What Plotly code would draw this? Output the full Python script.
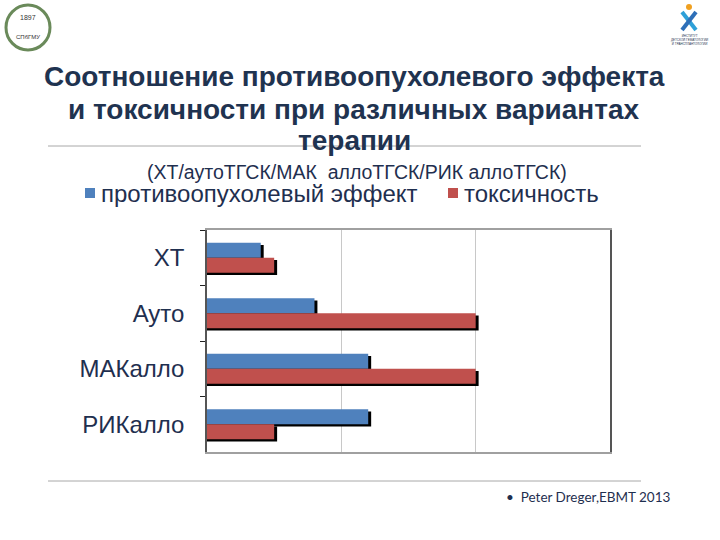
import plotly.graph_objects as go

categories = ["ХТ", "Ауто", "МАКалло", "РИКалло"]
effect = [0.4, 0.8, 1.2, 1.2]
toxicity = [0.5, 2.0, 2.0, 0.5]
series_names = ["противоопухолевый эффект", "токсичность"]
colors = ["#4F81BD", "#C0504D"]
title_lines = ["Соотношение противоопухолевого эффекта",
               "и токсичности при различных вариантах",
               "терапии"]
subtitle = "(ХТ/аутоТГСК/МАК  аллоТГСК/РИК аллоТГСК)"
source = "•  Peter Dreger,EBMT 2013"

L, R, T, B = 207, 610, 230, 452
W, H = R - L, B - T
def px(x): return (x - L) / W
def py(y): return (B - y) / H

navy = "#1F2F4F"
bw = 0.27
sx, sy = 0.022, 0.04  # shadow offsets in data units

fig = go.Figure()
for vals, off in [(effect, -bw), (toxicity, 0.0)]:
    fig.add_trace(go.Bar(
        y=categories, x=[v + sx for v in vals], orientation="h",
        width=bw, offset=off + sy, marker=dict(color="black", line_width=0),
        showlegend=False, hoverinfo="skip"))
for vals, off, name, c in [(effect, -bw, series_names[0], colors[0]),
                           (toxicity, 0.0, series_names[1], colors[1])]:
    fig.add_trace(go.Bar(
        y=categories, x=vals, orientation="h", name=name, showlegend=False,
        width=bw, offset=off, marker=dict(color=c, line_width=0)))

fig.update_layout(
    width=720, height=540,
    margin=dict(l=L, r=720 - R, t=T, b=540 - B, autoexpand=False),
    paper_bgcolor="white", plot_bgcolor="white",
    barmode="overlay",
    font=dict(family="Liberation Sans, Arial, sans-serif", color=navy),
    xaxis=dict(range=[0, 3], showticklabels=False, ticks="", showgrid=True,
               gridcolor="#C8C8C8", gridwidth=1, dtick=1, zeroline=False,
               showline=True, linecolor="#A0A0A0", linewidth=2, mirror=True,
               automargin=False),
    yaxis=dict(categoryorder="array", categoryarray=categories, autorange="reversed",
               ticks="outside", tickson="boundaries", ticklen=5, tickcolor="#222",
               showline=True, linecolor="#555", linewidth=1.5, mirror=True,
               tickfont=dict(size=24, color=navy), ticklabelstandoff=16,
               showgrid=False, automargin=False),
)

def note(text, x, y, size, color=navy, xanchor="center", family=None, bold=False):
    f = dict(size=size, color=color)
    if family:
        f["family"] = family
    fig.add_annotation(text=("<b>%s</b>" % text) if bold else text,
                       x=px(x), y=py(y), xref="paper", yref="paper",
                       xanchor=xanchor, yanchor="middle", showarrow=False, font=f)

# title lines
for txt, yy in zip(title_lines, (77, 109, 140)):
    note(txt, 354, yy, 28, color="#1F3350", bold=True)

note(subtitle, 357, 172, 19.5)

# legend (squares + labels)
for name, c, sxp in zip(series_names, colors, (85, 448)):
    fig.add_shape(type="rect", xref="paper", yref="paper",
                  x0=px(sxp), x1=px(sxp + 10), y0=py(198), y1=py(188),
                  fillcolor=c, line_width=0)
    note(name, sxp + 14, 193, 24, xanchor="left")

note(source, 504, 497, 13.5, xanchor="left", family="Lato, sans-serif")

for yy in (146, 481):
    fig.add_shape(type="line", xref="paper", yref="paper",
                  x0=px(48), x1=px(641), y0=py(yy), y1=py(yy),
                  line=dict(color="#A8A8A8", width=1))

# left logo (approximation)
fig.add_shape(type="circle", xref="paper", yref="paper",
              x0=px(6), x1=px(50), y0=py(50), y1=py(5),
              line=dict(color="#6A8A5A", width=3))
note("1897", 28, 17, 7, color="#333")
note("СПбГМУ", 28, 37, 6, color="#333")
# right logo (approximation)
fig.add_shape(type="line", xref="paper", yref="paper", x0=px(682), x1=px(696),
              y0=py(12), y1=py(30), line=dict(color="#2EA0D8", width=4))
fig.add_shape(type="line", xref="paper", yref="paper", x0=px(696), x1=px(682),
              y0=py(12), y1=py(30), line=dict(color="#2E6FB8", width=4))
fig.add_shape(type="circle", xref="paper", yref="paper", x0=px(686), x1=px(692),
              y0=py(10), y1=py(4), fillcolor="#F0A020", line_width=0)
note("ИНСТИТУТ<br>ДЕТСКОЙ ГЕМАТОЛОГИИ<br>И ТРАНСПЛАНТОЛОГИИ", 689, 40, 3, color="#1F3350")

fig.write_html("out.html", config={"displayModeBar": False},
               post_script="document.body.style.margin='0px';")
